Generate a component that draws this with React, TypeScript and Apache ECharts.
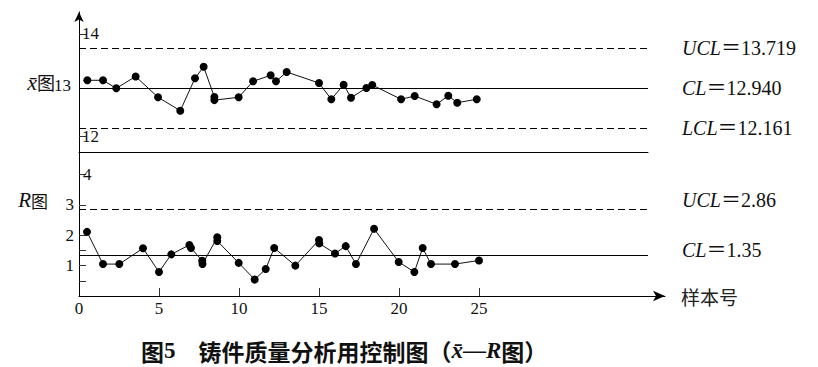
import React, { useEffect, useRef } from 'react';
import * as echarts from 'echarts';

// x-bar chart: sample positions and subgroup means
const xbarSample = [0.52, 1.5, 2.33, 3.54, 4.94, 6.33, 7.25, 7.79, 8.46, 8.46, 9.98, 10.88, 11.98, 12.31, 12.98, 15.0, 15.77, 16.54, 17.0, 17.96, 18.33, 20.13, 20.98, 22.35, 23.08, 23.64, 24.86];
const xbarValue = [13.096, 13.096, 12.94, 13.17, 12.765, 12.504, 13.135, 13.361, 12.77, 12.71, 12.765, 13.076, 13.193, 13.076, 13.257, 13.043, 12.726, 13.01, 12.757, 12.946, 13.004, 12.726, 12.79, 12.628, 12.796, 12.66, 12.726];

// R chart: sample positions and ranges
const rSample = [0.5, 1.5, 2.52, 4.0, 5.0, 5.77, 6.9, 7.0, 7.7, 7.72, 8.64, 8.64, 9.98, 10.98, 11.67, 12.2, 13.52, 15.0, 15.02, 16.0, 16.67, 17.31, 18.44, 19.98, 20.96, 21.48, 22.0, 23.5, 25.0];
const rValue = [2.11, 1.05, 1.05, 1.57, 0.79, 1.37, 1.68, 1.58, 1.16, 1.05, 1.93, 1.81, 1.09, 0.54, 0.89, 1.58, 1.0, 1.84, 1.73, 1.4, 1.64, 1.05, 2.21, 1.12, 0.79, 1.58, 1.05, 1.05, 1.17];

// control limits
const xbarLimitNames = ['UCL', 'CL', 'LCL'];
const xbarLimits = [13.719, 12.94, 12.161];
const rLimitNames = ['UCL', 'CL'];
const rLimits = [2.86, 1.35];

// tick labels
const xTickLabels = [0, 5, 10, 15, 20, 25];
const xbarTickLabelsOut = [13];
const xbarTickLabelsIn = [12, 14];
const rTickLabelsOut = [1, 2, 3];
const rTickLabelsIn = [4];
const rTicks = [0.5, 1, 1.5, 2, 3, 4];

const SERIF = 'Liberation Serif, Noto Sans CJK SC, serif';
const CJK = 'Noto Sans CJK SC, sans-serif';

const UPPER_XMAX = 35.5625;
const LOWER_XMAX = 36.625;

function limitLines(names: string[], values: number[], digits: number, xEnd: number, shifts: number[]) {
  return {
    silent: true,
    symbol: ['none', 'none'],
    animation: false,
    data: values.map((v, i) => [
      {
        coord: [0, v],
        lineStyle: { color: '#000', width: 1, type: names[i] === 'CL' ? 'solid' : [7, 4] },
        label: {
          show: true,
          position: 'end',
          distance: 34,
          padding: [0, 0, shifts[i] * 2, 0],
          formatter: `{i|${names[i]}}{n|＝${v.toFixed(digits)}}`,
          rich: {
            i: { fontFamily: SERIF, fontStyle: 'italic', fontSize: 20, color: '#111' },
            n: { fontFamily: SERIF, fontSize: 20, color: '#111' },
          },
        },
      },
      { coord: [xEnd, v] },
    ]),
  };
}

export default function App() {
  const ref = useRef<HTMLDivElement>(null);
  useEffect(() => {
    if (!ref.current) return;
    const chart = echarts.init(ref.current, undefined, { renderer: 'svg' });
    const yUpperMin = 12.94 - (152 - 88.3) * 0.019475;
    const yUpperMax = 12.94 + (88.3 - 12) * 0.019475;
    const rMax = 144 / 30.4;
    const pick = (list: number[]) => (v: number) => (list.some((t) => Math.abs(t - v) < 1e-6) ? String(v) : '');
    const labelStyle = { color: '#111', fontFamily: SERIF, fontSize: 17 };
    chart.setOption({
      animation: false,
      backgroundColor: '#fff',
      title: {
        left: 136,
        top: 334,
        text: '{b|图}{n|5}{b|　铸件质量分析用控制图（}{i|x̄}{n|—}{i|R}{b|图）}',
        textStyle: {
          rich: {
            b: { fontFamily: CJK, fontWeight: 'bold', fontSize: 23, color: '#111' },
            n: { fontFamily: SERIF, fontWeight: 'bold', fontSize: 23, color: '#111' },
            i: { fontFamily: SERIF, fontWeight: 'bold', fontStyle: 'italic', fontSize: 23, color: '#111' },
          },
        },
      },
      grid: [
        { left: 79, top: 12, width: 569, height: 140 },
        { left: 79, top: 152, width: 586, height: 144 },
      ],
      xAxis: [
        {
          gridIndex: 0,
          type: 'value',
          min: 0,
          max: UPPER_XMAX,
          axisLine: { show: true, lineStyle: { color: '#000', width: 1 } },
          axisTick: { show: false },
          axisLabel: { show: false },
          splitLine: { show: false },
        },
        {
          gridIndex: 1,
          type: 'value',
          min: 0,
          max: LOWER_XMAX,
          axisLine: { show: true, symbol: ['none', 'arrow'], symbolSize: [8, 12], lineStyle: { color: '#000', width: 1 } },
          axisTick: { show: true, inside: true, length: 8, customValues: xTickLabels.slice(1), lineStyle: { color: '#333' } },
          axisLabel: { ...labelStyle, margin: 4, customValues: xTickLabels, formatter: pick(xTickLabels) },
          splitLine: { show: false },
          name: '样本号',
          nameLocation: 'end',
          nameGap: 16,
          nameTextStyle: { fontFamily: CJK, fontSize: 19, color: '#222', padding: [4, 0, 0, 0] },
        },
      ],
      yAxis: [
        {
          gridIndex: 0,
          type: 'value',
          position: 'left',
          min: yUpperMin,
          max: yUpperMax,
          axisLine: { show: true, symbol: ['none', 'arrow'], symbolSize: [7, 10], lineStyle: { color: '#000', width: 1 } },
          axisTick: { show: true, inside: true, length: 7, customValues: xbarTickLabelsIn, lineStyle: { color: '#333' } },
          axisLabel: { ...labelStyle, margin: 8, customValues: xbarTickLabelsOut, formatter: pick(xbarTickLabelsOut) },
          splitLine: { show: false },
          name: '{x|x̄}{c|图}',
          nameLocation: 'middle',
          nameRotate: 0,
          nameGap: 24,
          nameMoveOverlap: false,
          nameTextStyle: {
            align: 'right',
            rich: {
              x: { fontFamily: SERIF, fontStyle: 'italic', fontSize: 22, color: '#111' },
              c: { fontFamily: CJK, fontSize: 18, color: '#111' },
            },
          },
        },
        {
          gridIndex: 0,
          type: 'value',
          position: 'left',
          min: yUpperMin,
          max: yUpperMax,
          axisLine: { show: false },
          axisTick: { show: false },
          axisLabel: { ...labelStyle, inside: true, margin: 3, customValues: xbarTickLabelsIn, formatter: pick(xbarTickLabelsIn) },
          splitLine: { show: false },
        },
        {
          gridIndex: 1,
          type: 'value',
          position: 'left',
          min: 0,
          max: rMax,
          axisLine: { show: true, lineStyle: { color: '#000', width: 1 } },
          axisTick: { show: true, inside: true, length: 7, customValues: rTicks, lineStyle: { color: '#333' } },
          axisLabel: { ...labelStyle, margin: 5, customValues: rTickLabelsOut, formatter: pick(rTickLabelsOut) },
          splitLine: { show: false },
          name: '{r|R}{c|图}',
          nameLocation: 'middle',
          nameRotate: 0,
          nameGap: 31,
          nameMoveOverlap: false,
          nameTextStyle: {
            align: 'right',
            padding: [0, 0, 48, 0],
            rich: {
              r: { fontFamily: SERIF, fontStyle: 'italic', fontSize: 21, color: '#111' },
              c: { fontFamily: CJK, fontSize: 17, color: '#111' },
            },
          },
        },
        {
          gridIndex: 1,
          type: 'value',
          position: 'left',
          min: 0,
          max: rMax,
          axisLine: { show: false },
          axisTick: { show: false },
          axisLabel: { ...labelStyle, inside: true, margin: 4, customValues: rTickLabelsIn, formatter: pick(rTickLabelsIn) },
          splitLine: { show: false },
        },
      ],
      series: [
        {
          type: 'line',
          xAxisIndex: 0,
          yAxisIndex: 0,
          data: xbarSample.map((x, i) => [x, xbarValue[i]]),
          symbol: 'circle',
          symbolSize: 8,
          lineStyle: { color: '#111', width: 1 },
          itemStyle: { color: '#000' },
          markLine: limitLines(xbarLimitNames, xbarLimits, 3, UPPER_XMAX, [0, 0, 0]),
        },
        {
          type: 'line',
          xAxisIndex: 1,
          yAxisIndex: 2,
          data: rSample.map((x, i) => [x, rValue[i]]),
          symbol: 'circle',
          symbolSize: 8,
          lineStyle: { color: '#111', width: 1 },
          itemStyle: { color: '#000' },
          markLine: limitLines(rLimitNames, rLimits, 2, UPPER_XMAX, [9, 5]),
        },
      ],
    });
    return () => chart.dispose();
  }, []);
  return <div ref={ref} style={{ position: 'fixed', left: 0, top: 0, width: 818, height: 367 }} />;
}
